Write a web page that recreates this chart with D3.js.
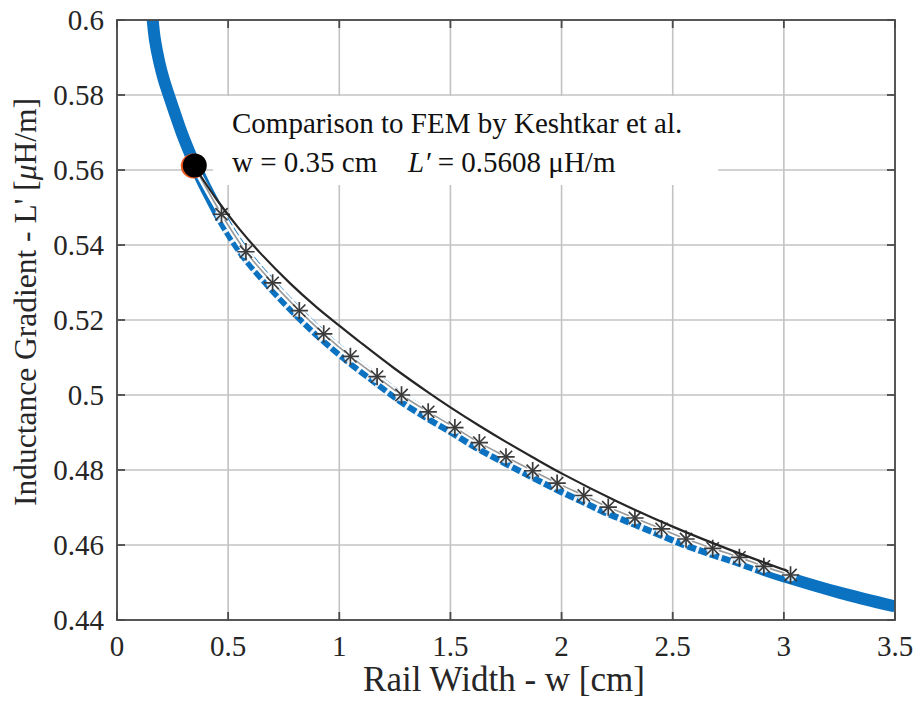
<!DOCTYPE html>
<html>
<head>
<meta charset="utf-8">
<script src="https://cdn.jsdelivr.net/npm/d3@7"></script>
<style>
  html, body { margin: 0; padding: 0; background: #fff; }
  svg { display: block; }
</style>
</head>
<body>
<svg id="chart" width="919" height="702" font-family="'Liberation Serif', 'Times New Roman', Times, 'DejaVu Serif', serif"></svg>
<script>
// ---- data ----
const xTicks = [0, 0.5, 1, 1.5, 2, 2.5, 3, 3.5];
const xTickLabels = ["0", "0.5", "1", "1.5", "2", "2.5", "3", "3.5"];
const yTicks = [0.44, 0.46, 0.48, 0.5, 0.52, 0.54, 0.56, 0.58, 0.6];
const yTickLabels = ["0.44", "0.46", "0.48", "0.5", "0.52", "0.54", "0.56", "0.58", "0.6"];

// thick blue curve (analytical model)
const blueW = [0.16,0.17,0.19,0.21,0.23,0.26,0.29,0.32,0.35,0.39,0.43,0.47,0.58,0.70,0.82,0.93,1.05,1.17,1.28,1.40,1.52,1.63,1.75,1.87,1.98,2.10,2.21,2.33,2.45,2.56,2.68,2.80,2.91,3.03,3.25,3.50];
const blueL = [0.6005,0.5950,0.5888,0.5842,0.5805,0.5752,0.5701,0.5656,0.5614,0.5563,0.5517,0.5472,0.5372,0.5289,0.5215,0.5153,0.5093,0.5039,0.4990,0.4945,0.4903,0.4863,0.4825,0.4788,0.4755,0.4722,0.4691,0.4662,0.4633,0.4606,0.4581,0.4558,0.4534,0.4511,0.4473,0.4436];

// FEM by Keshtkar et al. (star markers)
const femW = [0.35,0.47,0.58,0.70,0.82,0.93,1.05,1.17,1.28,1.40,1.52,1.63,1.75,1.87,1.98,2.10,2.21,2.33,2.45,2.56,2.68,2.80,2.91,3.03];
const femL = [0.5608,0.5482,0.5382,0.5299,0.5225,0.5163,0.5103,0.5049,0.5000,0.4955,0.4913,0.4873,0.4835,0.4798,0.4765,0.4732,0.4701,0.4672,0.4643,0.4616,0.4591,0.4567,0.4543,0.4520];

// black thin curve
const modelW = [0.35,0.45,0.55,0.65,0.78,0.90,1.00,1.10,1.25,1.40,1.50,1.63,1.75,1.87,2.00,2.25,2.50,2.75,3.02];
const modelL = [0.5608,0.5520,0.5443,0.5375,0.5297,0.5233,0.5185,0.5138,0.5070,0.5007,0.4967,0.4918,0.4875,0.4834,0.4791,0.4716,0.4649,0.4589,0.4530];

// highlighted comparison point
const pointW = [0.35];
const pointL = [0.5608];

// ---- layout ----
const svg = d3.select("#chart");
const L = 117, R = 895, T = 20, B = 620;
const x = d3.scaleLinear().domain([0, 3.5]).range([L, R]);
const y = d3.scaleLinear().domain([0.44, 0.6]).range([B, T]);

const blue = blueW.map((w, i) => ({w, v: blueL[i]}));
const fem = femW.map((w, i) => ({w, v: femL[i]}));
const model = modelW.map((w, i) => ({w, v: modelL[i]}));
const pts = pointW.map((w, i) => ({w, v: pointL[i]}));

svg.append("defs").append("clipPath").attr("id", "clip")
  .append("rect").attr("x", L).attr("y", T).attr("width", R - L).attr("height", B - T);

// grid
const grid = svg.append("g");
grid.selectAll("line.gx").data(xTicks).join("line")
  .attr("x1", d => x(d)).attr("x2", d => x(d)).attr("y1", T).attr("y2", B)
  .attr("stroke", "#c3c3c3").attr("stroke-width", 1.6);
grid.selectAll("line.gy").data(yTicks).join("line")
  .attr("y1", d => y(d)).attr("y2", d => y(d)).attr("x1", L).attr("x2", R)
  .attr("stroke", "#c3c3c3").attr("stroke-width", 1.6);

// annotation box (covers grid)
svg.append("rect").attr("x", 213).attr("y", 96).attr("width", 505).attr("height", 89).attr("fill", "#fff");

const line = d3.line().x(d => x(d.w)).y(d => y(d.v)).curve(d3.curveCatmullRom.alpha(0.5));
const plot = svg.append("g").attr("clip-path", "url(#clip)");

// thick blue
plot.append("path").datum(blue).attr("d", line)
  .attr("fill", "none").attr("stroke", "#0b72c1").attr("stroke-width", 12);
// dash gaps in overlap region
plot.append("path").datum(blue.filter(d => d.w >= 0.45 && d.w <= 3.0)).attr("d", line)
  .attr("fill", "none").attr("stroke", "#eef4fa").attr("stroke-width", 13)
  .attr("stroke-dasharray", "3 9");
// white halo along FEM line
plot.append("path").datum(fem).attr("d", line)
  .attr("fill", "none").attr("stroke", "#fff").attr("stroke-width", 6);
plot.append("path").datum(fem).attr("d", line)
  .attr("fill", "none").attr("stroke", "#9a9a9a").attr("stroke-width", 1.6);

// star markers
const plus = d3.symbol().type(d3.symbolPlus).size(100);
const times = d3.symbol().type(d3.symbolTimes).size(100);
const mk = plot.append("g").selectAll("g").data(fem.slice(1)).join("g")
  .attr("transform", d => `translate(${x(d.w)},${y(d.v)})`);
mk.append("circle").attr("r", 6.5).attr("fill", "#fff").attr("opacity", 0.8);
mk.append("path").attr("d", plus).attr("fill", "none").attr("stroke", "#3a3a3a").attr("stroke-width", 1.7);
mk.append("path").attr("d", times).attr("fill", "none").attr("stroke", "#3a3a3a").attr("stroke-width", 1.7);

// black line
plot.append("path").datum(model).attr("d", line)
  .attr("fill", "none").attr("stroke", "#262626").attr("stroke-width", 2.2);

// point
const pg = svg.append("g");
pg.selectAll("circle.o").data(pts).join("circle")
  .attr("cx", d => x(d.w) - 1.5).attr("cy", d => y(d.v) - 1).attr("r", 12.5).attr("fill", "#e8561e");
pg.selectAll("circle.b").data(pts).join("circle")
  .attr("cx", d => x(d.w)).attr("cy", d => y(d.v) - 1.5).attr("r", 12).attr("fill", "#000");

// frame and ticks
const axc = "#4a4a4a";
svg.append("rect").attr("x", L).attr("y", T).attr("width", R - L).attr("height", B - T)
  .attr("fill", "none").attr("stroke", axc).attr("stroke-width", 1.8);
const tk = svg.append("g").attr("stroke", axc).attr("stroke-width", 1.8);
xTicks.forEach(v => {
  tk.append("line").attr("x1", x(v)).attr("x2", x(v)).attr("y1", B).attr("y2", B - 8);
  tk.append("line").attr("x1", x(v)).attr("x2", x(v)).attr("y1", T).attr("y2", T + 8);
});
yTicks.forEach(v => {
  tk.append("line").attr("x1", L).attr("x2", L + 8).attr("y1", y(v)).attr("y2", y(v));
  tk.append("line").attr("x1", R).attr("x2", R - 8).attr("y1", y(v)).attr("y2", y(v));
});

// tick labels
svg.append("g").selectAll("text").data(xTicks).join("text")
  .attr("x", d => x(d)).attr("y", 656).attr("text-anchor", "middle")
  .attr("font-size", 29).attr("fill", "#262626").text((d, i) => xTickLabels[i]);
svg.append("g").selectAll("text").data(yTicks).join("text")
  .attr("x", 104).attr("y", d => y(d)).attr("dy", "0.34em").attr("text-anchor", "end")
  .attr("font-size", 29).attr("fill", "#262626").text((d, i) => yTickLabels[i]);

// axis titles
svg.append("text").attr("x", 504).attr("y", 691).attr("text-anchor", "middle")
  .attr("font-size", 35).attr("fill", "#262626").text("Rail Width - w [cm]");
const yt = svg.append("text").attr("transform", "translate(36,302) rotate(-90)")
  .attr("text-anchor", "middle").attr("font-size", 31.5).attr("fill", "#262626");
yt.append("tspan").text("Inductance Gradient - L' [");
yt.append("tspan").attr("font-style", "italic").text("μ");
yt.append("tspan").text("H/m]");

// annotation
svg.append("text").attr("x", 232).attr("y", 133).attr("font-size", 29).attr("fill", "#111")
  .text("Comparison to FEM by Keshtkar et al.");
const a2 = svg.append("text").attr("x", 232).attr("y", 172).attr("font-size", 29).attr("fill", "#111");
a2.append("tspan").text("w = 0.35 cm");
a2.append("tspan").attr("x", 408).attr("font-style", "italic").text("L′");
a2.append("tspan").text(" = 0.5608 μH/m");
</script>
</body>
</html>
